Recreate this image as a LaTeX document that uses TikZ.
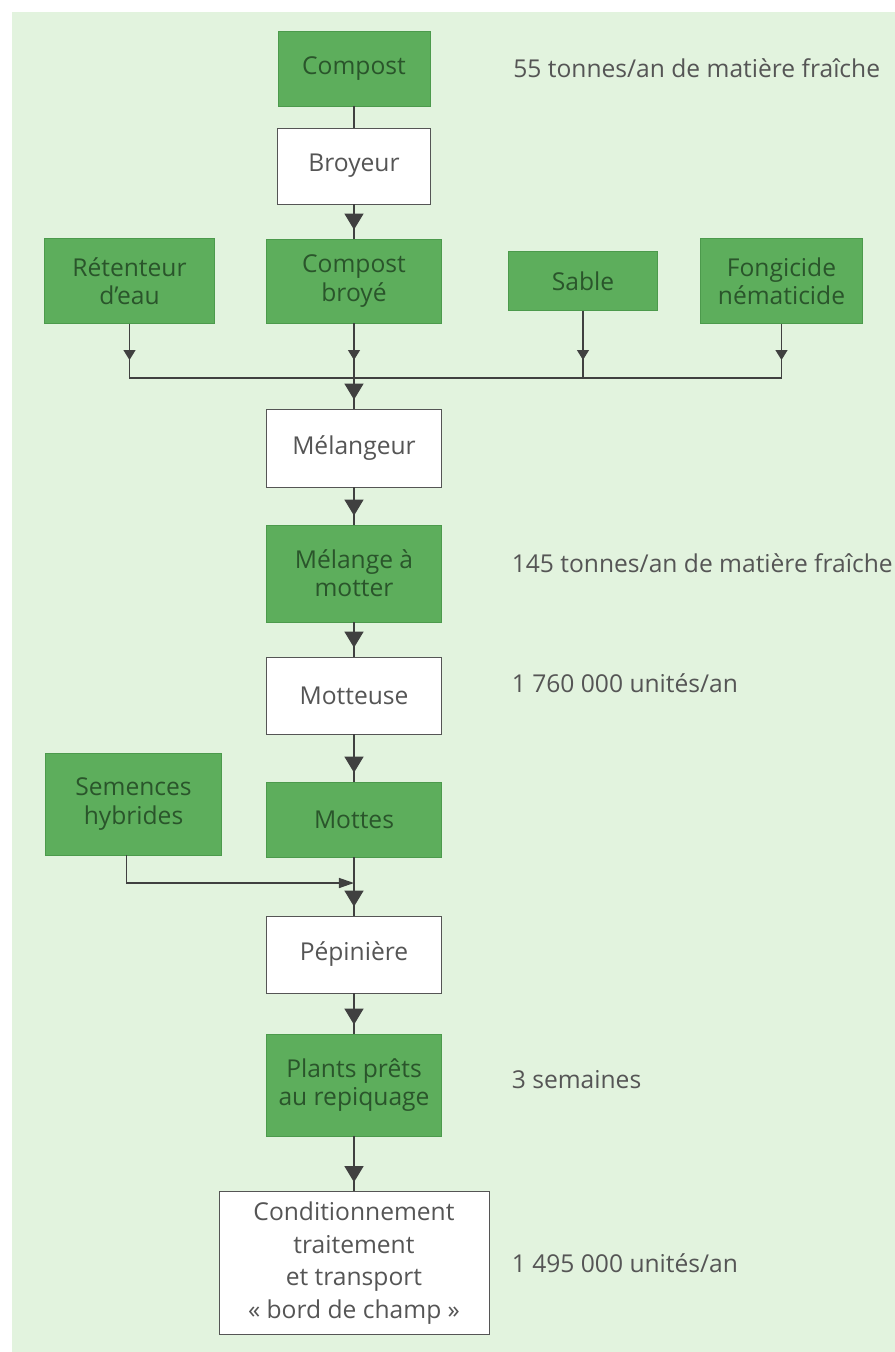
\documentclass[tikz,border=0pt]{standalone}
\usepackage{fontspec}
\setmainfont{Open Sans}
\usepackage{xcolor}
\usetikzlibrary{positioning, arrows.meta, decorations.markings}

\definecolor{pagegreen}{HTML}{E2F3DE}
\definecolor{boxgreen}{HTML}{5DAE5C}
\definecolor{boxedge}{HTML}{4C9A4C}
\definecolor{darkgreen}{HTML}{2A552B}
\definecolor{linegray}{HTML}{404040}
\definecolor{textgray}{HTML}{555555}

\begin{document}
\begin{tikzpicture}[on grid, font=\fontsize{14}{16}\selectfont,
    box/.style={draw, align=center, inner sep=2pt, minimum width=3.5cm, minimum height=1.54cm},
    greenbox/.style={box, draw=boxedge, fill=boxgreen, text=darkgreen},
    whitebox/.style={box, draw=textgray, fill=white, text=textgray},
    note/.style={anchor=west, inner sep=0pt, text=textgray},
    link/.style={draw=linegray, line width=0.75pt},
    bigarrow/.style={link, postaction={decorate}, decoration={markings,
        mark=at position -0.18cm with {\arrow[linegray]{Triangle[width=0.38cm, length=0.32cm]}}}},
    smallarrow/.style={link, postaction={decorate}, decoration={markings,
        mark=at position -0.36cm with {\arrow[linegray]{Triangle[width=0.24cm, length=0.2cm]}}}}]
        \fill[pagegreen] (-6.84,1.13) rectangle (10.82,-25.67);
        \useasboundingbox (-7.08,1.37) rectangle (10.82,-25.67);

        \node[greenbox, minimum width=3.04cm, minimum height=1.5cm] (compost) at (0,0) {Compost};
        \node[whitebox, minimum width=3.06cm, minimum height=1.52cm, below=1.95cm of compost] (broyeur) {Broyeur};
        \node[greenbox, minimum height=1.68cm, below=2.3cm of broyeur] (broye) {Compost\\broyé};
        \node[greenbox, minimum width=3.4cm, minimum height=1.7cm, left=4.49cm of broye] (retenteur) {Rétenteur\\d'eau};
        \node[greenbox, minimum width=2.98cm, minimum height=1.18cm, right=4.58cm of broye] (sable) {Sable};
        \node[greenbox, minimum width=3.24cm, minimum height=1.7cm, right=3.97cm of sable] (fongicide) {Fongicide\\nématicide};
        \coordinate[below=1.94cm of broye] (mix);
        \node[whitebox, minimum height=1.56cm, below=3.34cm of broye] (melangeur) {Mélangeur};
        \node[greenbox, minimum height=1.94cm, below=2.51cm of melangeur] (melmotter) {Mélange à\\motter};
        \node[whitebox, below=2.44cm of melmotter] (motteuse) {Motteuse};
        \node[greenbox, minimum height=1.5cm, below=2.48cm of motteuse] (mottes) {Mottes};
        \node[greenbox, minimum width=3.52cm, minimum height=2.04cm, above left=0.31cm and 4.41cm of mottes] (semences) {Semences\\hybrides};
        \coordinate[below=1.27cm of mottes] (seed);
        \node[whitebox, below=2.7cm of mottes] (pepiniere) {Pépinière};
        \node[greenbox, minimum height=2.04cm, below=2.61cm of pepiniere] (plants) {Plants prêts\\au repiquage};
        \node[whitebox, minimum width=5.4cm, minimum height=2.86cm, below=3.56cm of plants,
            font=\fontsize{14}{18.5}\selectfont] (condition) {Conditionnement\\traitement\\et transport\\« bord de champ »};

        \node[note] (n55) at ([xshift=3.18cm]compost.center) {55 tonnes/an de matière fraîche};
        \node[note] (n145) at ([xshift=3.15cm, yshift=0.2cm]melmotter.center) {145 tonnes/an de matière fraîche};
        \node[note] (n1760) at ([xshift=3.15cm, yshift=0.24cm]motteuse.center) {1 760 000 unités/an};
        \node[note] (n3) at ([xshift=3.15cm, yshift=0.1cm]plants.center) {3 semaines};
        \node[note] (n1495) at ([xshift=3.15cm]condition.center) {1 495 000 unités/an};

        \draw[link] (compost) -- (broyeur);
        \draw[bigarrow] (broyeur) -- (broye);
        \draw[smallarrow] (retenteur) -- (retenteur |- mix);
        \draw[smallarrow] (broye) -- (mix);
        \draw[smallarrow] (sable) -- (sable |- mix);
        \draw[smallarrow] (fongicide) -- (fongicide |- mix);
        \draw[link] (retenteur |- mix) -- (fongicide |- mix);
        \draw[bigarrow] (mix) -- (melangeur);
        \draw[bigarrow] (melangeur) -- (melmotter);
        \draw[bigarrow] (melmotter) -- (motteuse);
        \draw[bigarrow] (motteuse) -- (mottes);
        \draw[link, -{Triangle[width=0.2cm, length=0.3cm]}] ([xshift=-0.14cm]semences.south) |- (seed);
        \draw[bigarrow] (mottes) -- (pepiniere);
        \draw[bigarrow] (pepiniere) -- (plants);
        \draw[bigarrow] (plants) -- (condition);
    \end{tikzpicture}
\end{document}
